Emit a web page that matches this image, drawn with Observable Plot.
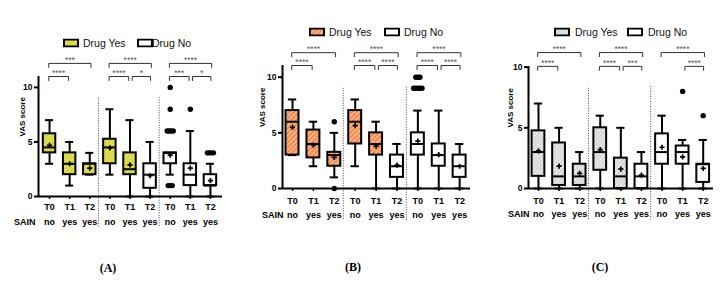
<!DOCTYPE html>
<html>
<head>
<meta charset="utf-8">
<script src="https://cdn.jsdelivr.net/npm/d3@7"></script>
<script src="https://cdn.jsdelivr.net/npm/@observablehq/plot@0.6"></script>
<style>
  body { margin: 0; background: #fff; }
  #fig { position: relative; width: 728px; height: 285px; overflow: hidden; background: #fff;
         font-family: "Liberation Sans", Arial, sans-serif; }
  .panel { position: absolute; top: 0; }
  .lg-text { position: absolute; font-size: 10.5px; line-height: 12px; color: #111; white-space: nowrap; transform: translateY(-50%); }
  .lg-swatch { position: absolute; transform: translateY(-50%); }
  .cap { position: absolute; font-family: "Liberation Serif", "Times New Roman", serif; font-weight: bold;
         font-size: 12px; transform: translate(-50%, -50%); white-space: nowrap; }
</style>
</head>
<body>
<svg width="0" height="0" style="position:absolute">
  <defs>
    <pattern id="hatchYellow" width="3" height="3" patternUnits="userSpaceOnUse" patternTransform="rotate(45)">
      <rect width="3" height="3" fill="#e2e25a"/>
      <line x1="0" y1="0" x2="0" y2="3" stroke="#b8b826" stroke-width="1"/>
      <line x1="0" y1="0" x2="3" y2="0" stroke="#cfcf40" stroke-width="0.6"/>
    </pattern>
    <pattern id="hatchOrange" width="3.4" height="3.4" patternUnits="userSpaceOnUse" patternTransform="rotate(45)">
      <rect width="3.4" height="3.4" fill="#f9b080"/>
      <line x1="0" y1="0" x2="0" y2="3.4" stroke="#ee7230" stroke-width="1.9"/>
    </pattern>
    <pattern id="hatchGray" width="3" height="3" patternUnits="userSpaceOnUse" patternTransform="rotate(45)">
      <rect width="3" height="3" fill="#e6e6e6"/>
      <line x1="0" y1="0" x2="0" y2="3" stroke="#b2b2b2" stroke-width="0.9"/>
    </pattern>
  </defs>
</svg>
<div id="fig"></div>
<script>
// Shared categories: time point, SAIN use and whether the drug was taken, per box
const timepoints = ["T0", "T1", "T2", "T0", "T1", "T2", "T0", "T1", "T2"];
const sainUse    = ["no", "yes", "yes", "no", "yes", "yes", "no", "yes", "yes"];
const drugTaken  = ["Yes", "Yes", "Yes", "Yes", "Yes", "No", "No", "No", "No"];
const legendLabels = ["Drug Yes", "Drug No"];

// Panel A: VAS score box statistics
const aLow    = [3, 1, 2, 2, 0, 0, 2, 0, 0];
const aQ1     = [4, 2, 2, 3, 2, 0.75, 3, 1, 1];
const aMedian = [4.5, 3, 3, 4.5, 2.5, 2, 4, 2, 1];
const aQ3     = [5.75, 4, 3, 5.25, 4, 3, 4, 3, 2];
const aHigh   = [7, 5, 4, 8, 7, 5, 4, 6, 3];
const aMean   = [4.7, 3.0, 2.6, 4.45, 2.9, 1.9, 3.8, 2.6, 1.45];
const aOutliers = [[], [], [], [], [], [], [10, 8, 6, 6, 6, 6, 1, 1, 1], [8], [4, 4, 4, 4]];
const aBrackets = [
  {from: 0, to: 2, row: 1, label: "***"},  {from: 0, to: 1, row: 0, label: "****"},
  {from: 3, to: 5, row: 1, label: "****"}, {from: 3, to: 4, row: 0, label: "****"}, {from: 4, to: 5, row: 0, label: "*"},
  {from: 6, to: 8, row: 1, label: "****"}, {from: 6, to: 7, row: 0, label: "***"},  {from: 7, to: 8, row: 0, label: "*"}
];

// Panel B
const bLow    = [3, 2, 1, 2, 0, 0, 0, 0, 0];
const bQ1     = [3, 2.75, 2, 4, 3, 1, 3, 2, 1];
const bMedian = [6, 4, 3, 6, 4, 2, 4, 3, 2];
const bQ3     = [7, 5.25, 3.25, 7, 5, 3, 5, 4, 3];
const bHigh   = [8, 6, 5, 8, 6, 4, 7, 7, 4];
const bMean   = [5.5, 3.9, 2.8, 5.65, 3.8, 2.1, 4.25, 3.05, 2.0];
const bOutliers = [[], [], [6, 0], [], [], [], [10, 10, 10, 9, 9, 9, 9, 9], [], []];
const bBrackets = [
  {from: 0, to: 2, row: 1, label: "****"}, {from: 0, to: 1, row: 0, label: "****"},
  {from: 3, to: 5, row: 1, label: "****"}, {from: 3, to: 4, row: 0, label: "****"}, {from: 4, to: 5, row: 0, label: "****"},
  {from: 6, to: 8, row: 1, label: "****"}, {from: 6, to: 7, row: 0, label: "****"}, {from: 7, to: 8, row: 0, label: "****"}
];

// Panel C
const cLow    = [0, 0, 0, 0, 0, 0, 0, 0, 0];
const cQ1     = [1, 0.25, 0.25, 1.5, 0, 0, 2, 2, 0.5];
const cMedian = [3, 1, 1, 3, 1, 1, 3, 3, 2];
const cQ3     = [4.75, 3.75, 2, 5, 2.5, 2, 4.5, 3.5, 2];
const cHigh   = [7, 5, 3, 6, 5, 3, 6, 4, 4];
const cMean   = [3.1, 1.85, 1.25, 3.2, 1.6, 1.1, 3.4, 2.6, 1.65];
const cOutliers = [[], [], [], [], [], [], [], [8], [6]];
const cBrackets = [
  {from: 0, to: 2, row: 1, label: "****"}, {from: 0, to: 1, row: 0, label: "****"},
  {from: 3, to: 5, row: 1, label: "****"}, {from: 3, to: 4, row: 0, label: "****"}, {from: 4, to: 5, row: 0, label: "***"},
  {from: 6, to: 8, row: 1, label: "****"}, {from: 7, to: 8, row: 0, label: "****"}
];

const yTicks = [0, 5, 10];
const groupSeparators = [2.43, 5.45];

const panels = [
  {
    caption: "(A)", captionX: 108, captionY: 268,
    low: aLow, q1: aQ1, median: aMedian, q3: aQ3, high: aHigh, mean: aMean, outliers: aOutliers, brackets: aBrackets,
    fillYes: "url(#hatchYellow)",
    left: 0, width: 242, marginLeft: 38, marginRight: 20, marginTop: 76, marginBottom: 89,
    xDomain: [-0.55, 8.6], yDomain: [0, 11], unit: 10.9,
    bracketRows: [11.0, 12.2], sepTop: [9.0, 9.05], sepBottom: -2.84,
    tPad: 3.8, sainPad: 22, sainDy: 26, sainDx: -3, labelDx: -16,
    legend: {cy: 43, sw: [63, 137], tx: [83, 152]}
  },
  {
    caption: "(B)", captionX: 353, captionY: 267,
    low: bLow, q1: bQ1, median: bMedian, q3: bQ3, high: bHigh, mean: bMean, outliers: bOutliers, brackets: bBrackets,
    fillYes: "url(#hatchOrange)",
    left: 242, width: 243, marginLeft: 40, marginRight: 15, marginTop: 65, marginBottom: 97,
    xDomain: [-0.48, 8.52], yDomain: [0, 11.05], unit: 11.16,
    bracketRows: [11.05, 12.2], sepTop: [9.0, 9.1], sepBottom: -2.87,
    tPad: 5.8, sainPad: 23, sainDy: 26.5, sainDx: 1, labelDx: -20,
    legend: {cy: 32, sw: [309, 384], tx: [329, 404]}
  },
  {
    caption: "(C)", captionX: 600, captionY: 267,
    low: cLow, q1: cQ1, median: cMedian, q3: cQ3, high: cHigh, mean: cMean, outliers: cOutliers, brackets: cBrackets,
    fillYes: "url(#hatchGray)",
    left: 485, width: 243, marginLeft: 43, marginRight: 15, marginTop: 66, marginBottom: 97,
    xDomain: [-0.485, 8.5], yDomain: [0, 10.05], unit: 12.16,
    bracketRows: [10.06, 11.2], sepTop: [8.25, 8.4], sepBottom: -2.63,
    tPad: 5.8, sainPad: 22, sainDy: 25.5, sainDx: 1, labelDx: -18,
    legend: {cy: 32, sw: [554, 627], tx: [575, 648]}
  }
];

const fig = document.getElementById("fig");
const boxHalf = 0.31;   // half box width, in slot units
const capHalf = 0.2;    // half whisker-cap width
const pointGap = 0.1;   // horizontal spread of coincident outliers

function drawPanel(p) {
  const boxes = timepoints.map((t, i) => ({
    i, drug: drugTaken[i],
    low: p.low[i], q1: p.q1[i], median: p.median[i], q3: p.q3[i], high: p.high[i], mean: p.mean[i]
  }));

  // outliers sharing a value are spread side by side
  const points = p.outliers.flatMap((vals, i) => {
    const counts = d3.rollup(vals, v => v.length, v => v);
    const seen = new Map();
    return vals.map(v => {
      const n = counts.get(v), k = seen.get(v) || 0;
      seen.set(v, k + 1);
      return {i, v, off: (k - (n - 1) / 2) * pointGap};
    });
  });

  // significance brackets: horizontal bar with short downward ends
  const drop = 4 / p.unit;
  const ends = p.brackets.map(b => {
    const x1 = b.from + (b.from % 3 === 1 ? 0.11 : -0.04);
    const x2 = b.to + (b.row === 1 ? 0.06 : (b.to % 3 === 1 ? -0.06 : 0.02));
    return {...b, x1, x2, y: p.bracketRows[b.row]};
  });
  const bracketPath = ends.flatMap((b, j) => [
    {j, x: b.x1, y: b.y - drop}, {j, x: b.x1, y: b.y}, {j, x: b.x2, y: b.y}, {j, x: b.x2, y: b.y - drop}
  ]);

  const seps = groupSeparators.map((x, k) => ({x, top: p.sepTop[k]}));
  const slots = d3.range(timepoints.length);

  const svg = Plot.plot({
    width: p.width, height: 285,
    marginLeft: p.marginLeft, marginRight: p.marginRight, marginTop: p.marginTop, marginBottom: p.marginBottom,
    x: {domain: p.xDomain},
    y: {domain: p.yDomain},
    style: {fontFamily: "'Liberation Sans', Arial, sans-serif", color: "#000", background: "transparent", overflow: "visible"},
    marks: [
      Plot.ruleX(seps, {x: "x", y1: "top", y2: p.sepBottom, stroke: "#444", strokeWidth: 1, strokeDasharray: "1,1.5"}),
      // whiskers and caps
      Plot.ruleX(boxes, {x: "i", y1: "low", y2: "high", stroke: "#000", strokeWidth: 2}),
      Plot.ruleY(boxes, {y: "low", x1: d => d.i - capHalf, x2: d => d.i + capHalf, stroke: "#000", strokeWidth: 2}),
      Plot.ruleY(boxes, {y: "high", x1: d => d.i - capHalf, x2: d => d.i + capHalf, stroke: "#000", strokeWidth: 2}),
      // boxes
      Plot.rect(boxes, {filter: d => d.drug === "Yes", x1: d => d.i - boxHalf, x2: d => d.i + boxHalf, y1: "q1", y2: "q3",
        fill: p.fillYes, stroke: "#000", strokeWidth: 2}),
      Plot.rect(boxes, {filter: d => d.drug === "No", x1: d => d.i - boxHalf, x2: d => d.i + boxHalf, y1: "q1", y2: "q3",
        fill: "#fff", stroke: "#000", strokeWidth: 2}),
      Plot.ruleY(boxes, {y: "median", x1: d => d.i - boxHalf, x2: d => d.i + boxHalf, stroke: "#000", strokeWidth: 2}),
      Plot.dot(boxes, {x: "i", y: "mean", symbol: "plus", r: 1.8, stroke: "#000", strokeWidth: 1.7}),
      Plot.dot(points, {x: d => d.i + d.off, y: "v", r: 2.7, fill: "#000"}),
      // axis lines
      Plot.ruleX([p.xDomain[0]], {y1: 0, y2: p.yDomain[1], stroke: "#000", strokeWidth: 2}),
      Plot.ruleY([0], {x1: p.xDomain[0], x2: p.xDomain[1], stroke: "#000", strokeWidth: 2}),
      Plot.axisY({ticks: yTicks, tickSize: 4, tickPadding: 2, strokeWidth: 2, label: null,
        fontSize: 8.5, fontWeight: "bold"}),
      Plot.axisX({ticks: slots, tickSize: 3, tickPadding: p.tPad, strokeWidth: 1.5, label: null,
        tickFormat: i => timepoints[i], fontSize: 9, fontWeight: "bold"}),
      Plot.axisX({ticks: slots, tickSize: 0, tickPadding: p.sainPad, label: null,
        tickFormat: i => sainUse[i], fontSize: 9, fontWeight: "bold"}),
      Plot.text(["SAIN"], {x: p.xDomain[0], y: 0, dy: p.sainDy, dx: p.sainDx, textAnchor: "end",
        fontSize: 9, fontWeight: "bold", fill: "#000"}),
      Plot.text(["VAS score"], {frameAnchor: "left", rotate: -90, dx: p.labelDx, fontSize: 8, fontWeight: "bold", fill: "#000"}),
      // significance brackets
      Plot.line(bracketPath, {x: "x", y: "y", z: "j", stroke: "#333", strokeWidth: 1}),
      Plot.text(ends, {x: d => (d.x1 + d.x2) / 2, y: "y", text: "label", dy: -3.5, fontSize: 8.5, fill: "#555"})
    ]
  });

  const holder = document.createElement("div");
  holder.className = "panel";
  holder.style.left = p.left + "px";
  holder.appendChild(svg);
  fig.appendChild(holder);

  // legend above the panel
  const fills = [p.fillYes, "#fff"];
  legendLabels.forEach((label, k) => {
    const sw = document.createElementNS("http://www.w3.org/2000/svg", "svg");
    sw.setAttribute("width", 16); sw.setAttribute("height", 9);
    sw.setAttribute("class", "lg-swatch");
    sw.style.left = p.legend.sw[k] + "px";
    sw.style.top = p.legend.cy + "px";
    d3.select(sw).append("rect").attr("x", 1).attr("y", 1).attr("width", 14).attr("height", 7)
      .attr("fill", fills[k]).attr("stroke", "#000").attr("stroke-width", 2);
    fig.appendChild(sw);
    const tx = document.createElement("div");
    tx.className = "lg-text";
    tx.textContent = label;
    tx.style.left = p.legend.tx[k] + "px";
    tx.style.top = p.legend.cy + "px";
    fig.appendChild(tx);
  });

  const cap = document.createElement("div");
  cap.className = "cap";
  cap.textContent = p.caption;
  cap.style.left = p.captionX + "px";
  cap.style.top = p.captionY + "px";
  fig.appendChild(cap);
}

panels.forEach(drawPanel);
</script>
</body>
</html>
